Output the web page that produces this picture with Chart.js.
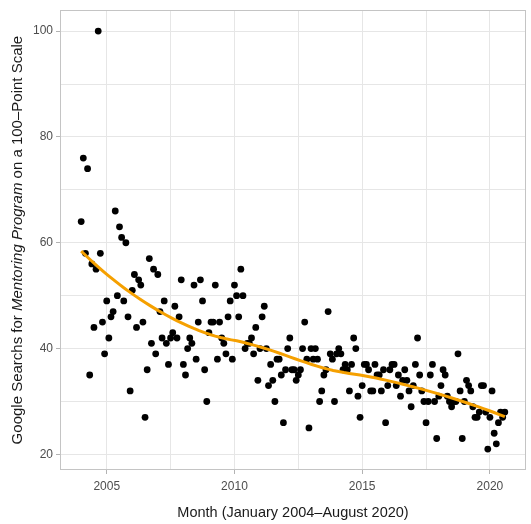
<!DOCTYPE html>
<html>
<head>
<meta charset="utf-8">
<script src="https://cdn.jsdelivr.net/npm/chart.js@4"></script>
<style>
  html, body { margin: 0; padding: 0; background: #ffffff; }
  #c { display: block; }
</style>
</head>
<body>
<canvas id="c" width="531" height="524"></canvas>
<script>
// ---- Data (monthly, January 2004 – August 2020) ----
const firstYear = 2004;          // first category: January 2004
const searches = [
  64,76,58,74,35,56,44,55,100,58, 45,39,49,42,46,47,66,50,63,61,
  49,60,46,32,51,54,44,53,52,45, 27,36,57,41,55,39,54,47,42,49,
  41,37,42,43,48,42,46,53,37,35, 40,42,41,52,38,45,53,49,36,30,
  43,45,45,52,38,45,42,41,39,46, 49,38,52,50,46,55,50,40,41,41,
  42,39,44,34,40,46,48,40,33,37, 34,30,38,38,35,26,36,40,42,36,
  36,34,35,36,40,45,38,25,40,38, 40,38,30,32,35,36,47,39,38,30,
  39,40,39,36,37,36,32,37,42,40, 31,27,33,37,37,36,32,32,37,35,
  35,32,36,26,33,36,37,37,33,35, 31,34,36,34,32,29,33,37,42,35,
  32,30,26,30,35,37,30,23,31,33, 36,35,31,30,29,30,30,39,32,23,
  30,34,33,32,29,27,27,28,33,33, 28,21,27,32,24,22,26,28,27,28
];
const xTickLabels = [2005, 2010, 2015, 2020];
const yTickLabels = [20, 40, 60, 80, 100];
const xTitle = 'Month (January 2004\u2013August 2020)';
const yTitleParts = [
  { text: 'Google Searchs for ', italic: false },
  { text: 'Mentoring Program', italic: true },
  { text: ' on a 100\u2013Point Scale', italic: false }
];

// month positions as decimal years
const monthX = searches.map((_, i) => firstYear + i / 12);
const points = searches.map((v, i) => ({ x: monthX[i], y: v }));

// ---- LOESS smoother (span 0.75, degree 2, tricube weights), like geom_smooth ----
function loess(xs, ys, span, nOut) {
  const n = xs.length, q = Math.floor(n * span);
  const xmin = Math.min(...xs), xmax = Math.max(...xs);
  const out = [];
  for (let k = 0; k < nOut; k++) {
    const x0 = xmin + (xmax - xmin) * k / (nOut - 1);
    const d = xs.map(x => Math.abs(x - x0));
    const h = d.slice().sort((a, b) => a - b)[q - 1] * 1.0000001;
    let S = [0,0,0,0,0], T = [0,0,0];
    for (let i = 0; i < n; i++) {
      const u = d[i] / h;
      if (u >= 1) continue;
      const w = Math.pow(1 - u * u * u, 3);
      const t = xs[i] - x0;
      let p = 1;
      for (let j = 0; j < 5; j++) { S[j] += w * p; if (j < 3) T[j] += w * p * ys[i]; p *= t; }
    }
    const A = [[S[0],S[1],S[2],T[0]],[S[1],S[2],S[3],T[1]],[S[2],S[3],S[4],T[2]]];
    for (let c = 0; c < 3; c++) {
      let piv = c;
      for (let r = c + 1; r < 3; r++) if (Math.abs(A[r][c]) > Math.abs(A[piv][c])) piv = r;
      [A[c], A[piv]] = [A[piv], A[c]];
      for (let r = 0; r < 3; r++) {
        if (r === c) continue;
        const f = A[r][c] / A[c][c];
        for (let cc = c; cc < 4; cc++) A[r][cc] -= f * A[c][cc];
      }
    }
    out.push({ x: x0, y: A[0][3] / A[0][0] });
  }
  return out;
}
const smooth = loess(monthX, searches, 0.75, 80);

// ---- axis ranges with ggplot-style 5% expansion ----
const xMinD = monthX[0], xMaxD = monthX[monthX.length - 1];
const yMinD = Math.min(...searches), yMaxD = Math.max(...searches);
const xPad = (xMaxD - xMinD) * 0.05, yPad = (yMaxD - yMinD) * 0.05;

function withMinor(major) {
  const all = [];
  for (let i = 0; i < major.length; i++) {
    all.push(major[i]);
    if (i < major.length - 1) all.push((major[i] + major[i + 1]) / 2);
  }
  return all;
}
const xTicksAll = withMinor(xTickLabels);
const yTicksAll = withMinor(yTickLabels);

const FONT = "'Liberation Sans', Arial, Helvetica, sans-serif";

const titlesPlugin = {
  id: 'titles',
  afterDraw(chart) {
    const ctx = chart.ctx, a = chart.chartArea;
    ctx.save();
    // panel border
    ctx.strokeStyle = '#c4c4c4';
    ctx.lineWidth = 1;
    ctx.strokeRect(Math.round(a.left) + 0.5, Math.round(a.top) + 0.5,
                   Math.round(a.right - a.left) - 1, Math.round(a.bottom - a.top) - 1);
    // x title
    ctx.fillStyle = '#1a1a1a';
    ctx.font = '14.5px ' + FONT;
    ctx.textAlign = 'center';
    ctx.textBaseline = 'middle';
    ctx.fillText(xTitle, (a.left + a.right) / 2, 513);
    // y title (rotated, mixed italic)
    const fonts = yTitleParts.map(p => (p.italic ? 'italic ' : '') + '15px ' + FONT);
    let total = 0;
    const widths = yTitleParts.map((p, i) => { ctx.font = fonts[i]; const w = ctx.measureText(p.text).width; total += w; return w; });
    ctx.translate(18, (a.top + a.bottom) / 2);
    ctx.rotate(-Math.PI / 2);
    ctx.textAlign = 'left';
    let xx = -total / 2;
    yTitleParts.forEach((p, i) => { ctx.font = fonts[i]; ctx.fillText(p.text, xx, 0); xx += widths[i]; });
    ctx.restore();
  }
};

const isMajor = (v, list) => list.some(m => Math.abs(m - v) < 1e-9);

new Chart(document.getElementById('c'), {
  type: 'scatter',
  data: {
    datasets: [
      {
        label: 'smooth',
        data: smooth,
        showLine: true,
        borderColor: '#F5A000',
        borderWidth: 3,
        pointRadius: 0,
        tension: 0,
        fill: false,
        order: 0
      },
      {
        label: 'searches',
        data: points,
        backgroundColor: '#000000',
        borderColor: '#000000',
        borderWidth: 0,
        pointRadius: 3.4,
        order: 1
      }
    ]
  },
  options: {
    responsive: false,
    animation: false,
    devicePixelRatio: 1,
    layout: { padding: { left: 0, right: 5, top: 10, bottom: 0 } },
    plugins: { legend: { display: false }, tooltip: { enabled: false } },
    scales: {
      x: {
        type: 'linear',
        min: xMinD - xPad,
        max: xMaxD + xPad,
        afterBuildTicks: s => { s.ticks = xTicksAll.map(v => ({ value: v })); },
        afterFit: s => { s.height = 54; },
        grid: {
          color: '#e6e6e6',
          lineWidth: 1,
          drawTicks: true,
          tickLength: 4,
          tickColor: c => isMajor(c.tick.value, xTickLabels) ? '#b3b3b3' : 'rgba(0,0,0,0)'
        },
        border: { display: false },
        ticks: {
          autoSkip: false,
          maxRotation: 0,
          padding: 5,
          color: '#4d4d4d',
          font: { family: FONT, size: 12 },
          callback: v => isMajor(v, xTickLabels) ? String(v) : ''
        }
      },
      y: {
        type: 'linear',
        min: yMinD - yPad,
        max: yMaxD + yPad,
        afterBuildTicks: s => { s.ticks = yTicksAll.map(v => ({ value: v })); },
        afterFit: s => { s.width = 60; },
        grid: {
          color: '#e6e6e6',
          lineWidth: 1,
          drawTicks: true,
          tickLength: 4,
          tickColor: c => isMajor(c.tick.value, yTickLabels) ? '#b3b3b3' : 'rgba(0,0,0,0)'
        },
        border: { display: false },
        ticks: {
          autoSkip: false,
          padding: 3,
          color: '#4d4d4d',
          font: { family: FONT, size: 12 },
          callback: v => isMajor(v, yTickLabels) ? String(v) : ''
        }
      }
    }
  },
  plugins: [titlesPlugin]
});
</script>
</body>
</html>
